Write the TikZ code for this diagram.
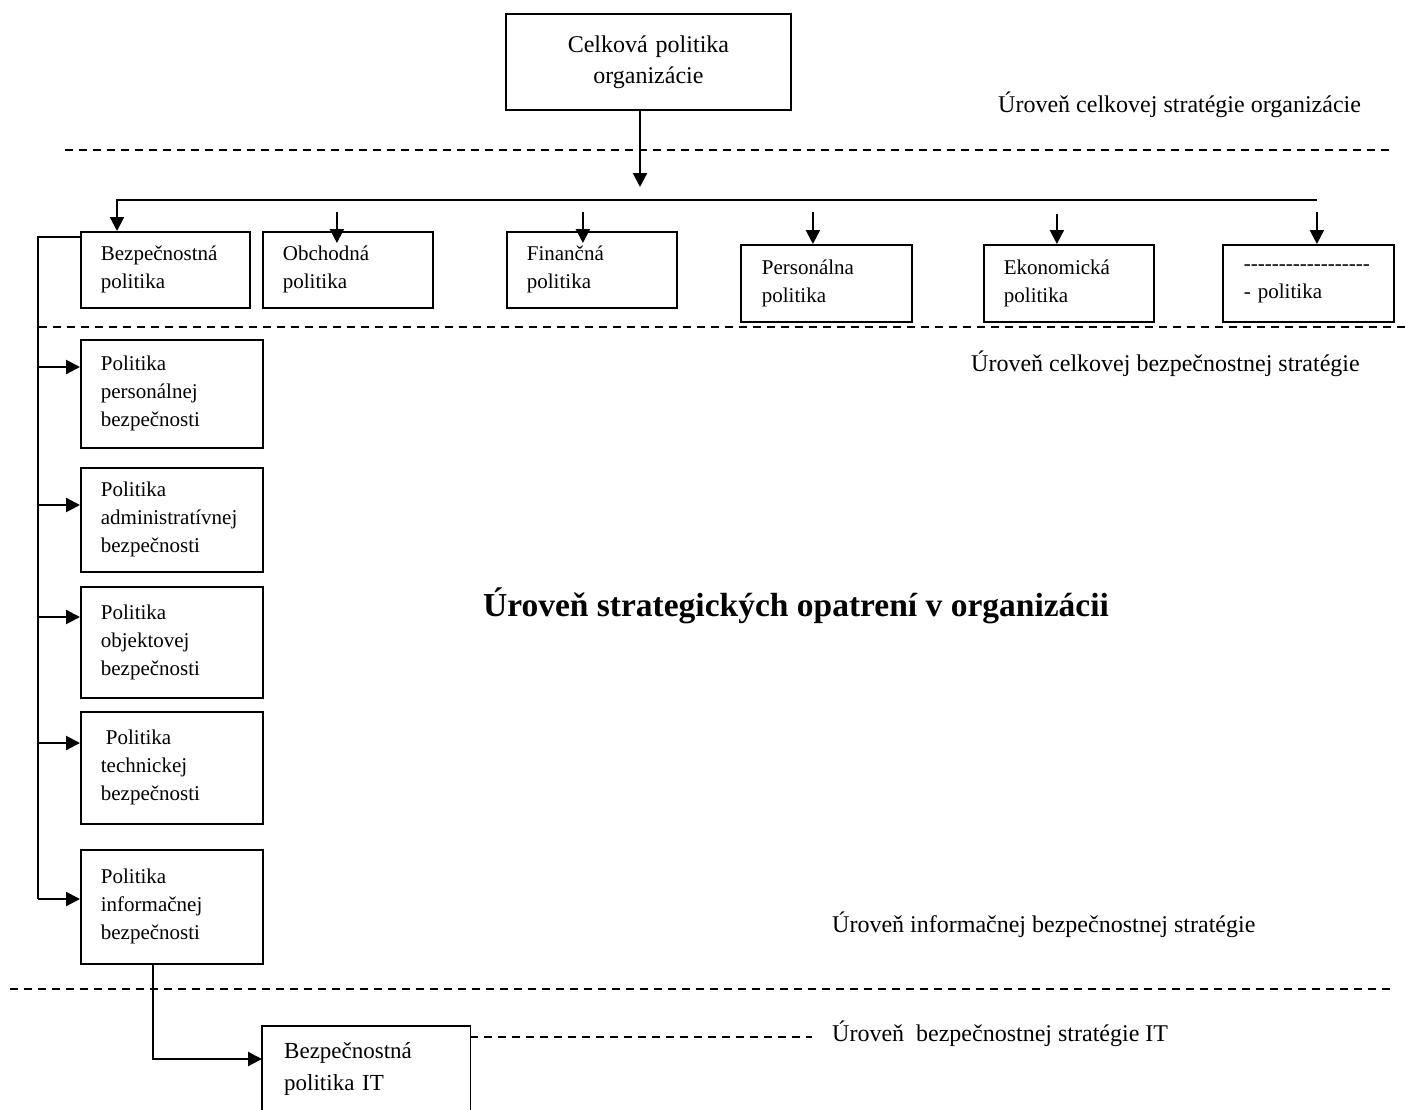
\documentclass[tikz,border=0pt]{standalone}
\usepackage{fontspec}
\setmainfont{Liberation Serif}
\usetikzlibrary{arrows.meta}

% a hyphen that never joins with its neighbours into a dash ligature
\newcommand{\hyph}{-\kern0pt}

\begin{document}
\begin{tikzpicture}[x=1pt,y=-1pt,
  boxline/.style={line width=1.8pt},
  pbox/.style={draw, boxline, inner sep=0pt, align=left,
    font=\fontsize{21}{28}\selectfont},
  conn/.style={line width=2.2pt},
  arr/.style={conn, -{Triangle[length=14pt,width=14pt]}},
  trunk/.style={line width=1.8pt},
  level/.style={line width=1.8pt, dash pattern=on 8pt off 6pt},
  lbl/.style={anchor=base west, inner sep=0pt, font=\fontsize{24}{28}\selectfont}]

\fill[white] (0,0) rectangle (1405,1109);
\useasboundingbox (0,0) rectangle (1405,1109);

% top level
\node[pbox, anchor=north west, minimum width=285pt, minimum height=96pt,
      text width=245pt, align=center, font=\fontsize{24}{31}\selectfont]
  (top) at (505,13) {Celková politika\\organizácie};

% row of organisational policies
\node[pbox, anchor=north west, minimum width=169pt, minimum height=76pt, text width=129pt]
  (bezp) at (80,231) {Bezpečnostná\\politika};
\node[pbox, anchor=north west, minimum width=170pt, minimum height=76pt, text width=130pt]
  (obch) at (262,231) {Obchodná\\politika};
\node[pbox, anchor=north west, minimum width=170pt, minimum height=76pt, text width=130pt]
  (fin) at (506,231) {Finančná\\politika};
\node[pbox, anchor=north west, minimum width=171pt, minimum height=77pt, text width=129pt]
  (pers) at (740,244) {Personálna\\politika};
\node[pbox, anchor=north west, minimum width=170pt, minimum height=77pt, text width=130pt]
  (ekon) at (983,244) {Ekonomická\\politika};
\node[pbox, anchor=north west, minimum width=171pt, minimum height=77pt, text width=129pt]
  (other) at (1222,244)
  {\hyph\hyph\hyph\hyph\hyph\hyph\hyph\hyph\hyph\hyph\hyph\hyph\hyph\hyph\hyph\hyph\hyph\hyph\\- politika};

% security policies
\node[pbox, anchor=north west, minimum width=182pt, minimum height=108pt, text width=142pt]
  (p1) at (80,339) {Politika\\personálnej\\bezpečnosti};
\node[pbox, anchor=north west, minimum width=182pt, minimum height=104pt, text width=142pt]
  (p2) at (80,467) {Politika\\administratívnej\\bezpečnosti};
\node[pbox, anchor=north west, minimum width=182pt, minimum height=111pt, text width=142pt]
  (p3) at (80,586) {Politika\\objektovej\\bezpečnosti};
\node[pbox, anchor=north west, minimum width=182pt, minimum height=112pt, text width=142pt]
  (p4) at (80,711) {\hspace*{5pt}Politika\\technickej\\bezpečnosti};
\node[pbox, anchor=north west, minimum width=182pt, minimum height=114pt, text width=142pt]
  (p5) at (80,849) {Politika\\informačnej\\bezpečnosti};

% IT security policy, open at the bottom
\node[anchor=north west, inner sep=0pt, minimum width=208pt, minimum height=86pt,
      text width=164pt, align=left, font=\fontsize{23}{32}\selectfont]
  (it) at (262,1026) {Bezpečnostná\\politika IT};
\draw[boxline] (it.south west |- 0,1120) -- (it.north west) -- (it.north east) -- (it.north east |- 0,1120);

% level separators
\draw[level] (65,150) -- (1390,150);
\draw[level] (39,327) -- (1405,327);
\draw[level] (10,989) -- (1390,989);
\coordinate (itlvl) at (812,1037);
\draw[level] (it.north east |- itlvl) -- (itlvl);

% level labels
\node[lbl] (l1) at (998,112) {Úroveň celkovej stratégie organizácie};
\node[lbl] (l2) at (971,371) {Úroveň celkovej bezpečnostnej stratégie};
\node[lbl] (l3) at (832,932) {Úroveň informačnej bezpečnostnej stratégie};
\node[lbl] (l4) at (832,1041) {Úroveň\ \ bezpečnostnej stratégie IT};
\node[anchor=base, inner sep=0pt, font=\fontsize{33.5}{38}\selectfont\bfseries]
  (mid) at (796,616) {Úroveň strategických opatrení v organizácii};

% distribution from the top
\coordinate (hub) at (640,187);
\draw[arr] (top.south -| hub) -- (hub);
\coordinate (busl) at (117,200);
\coordinate (busr) at (1317,200);
\draw[arr] (busr) -- (busl) -- (busl |- bezp.north);
\draw[arr] ([xshift=-11pt,yshift=19pt]obch.north) -- ([xshift=-11pt,yshift=-12pt]obch.north);
\draw[arr] ([xshift=-9pt,yshift=19pt]fin.north) -- ([xshift=-9pt,yshift=-12pt]fin.north);
\draw[arr] ([xshift=-13.5pt,yshift=32pt]pers.north) -- ([xshift=-13.5pt]pers.north);
\draw[arr] ([xshift=-12pt,yshift=30pt]ekon.north) -- ([xshift=-12pt]ekon.north);
\draw[arr] ([xshift=8.5pt,yshift=32pt]other.north) -- ([xshift=8.5pt]other.north);

% security policy trunk
\coordinate (lc) at (38,237);
\draw[trunk] (bezp.west |- lc) -- (lc) -- (38,899);
\draw[arr] (lc |- 0,367) -- (p1.west |- 0,367);
\draw[arr] (lc |- 0,505) -- (p2.west |- 0,505);
\draw[arr] (lc |- 0,617) -- (p3.west |- 0,617);
\draw[arr] (lc |- 0,743) -- (p4.west |- 0,743);
\draw[arr] (lc |- 0,899) -- (p5.west |- 0,899);

% down to IT
\coordinate (itbend) at (153,1059);
\draw[arr] (p5.south -| itbend) -- (itbend) -- (it.west |- itbend);

\end{tikzpicture}
\end{document}
